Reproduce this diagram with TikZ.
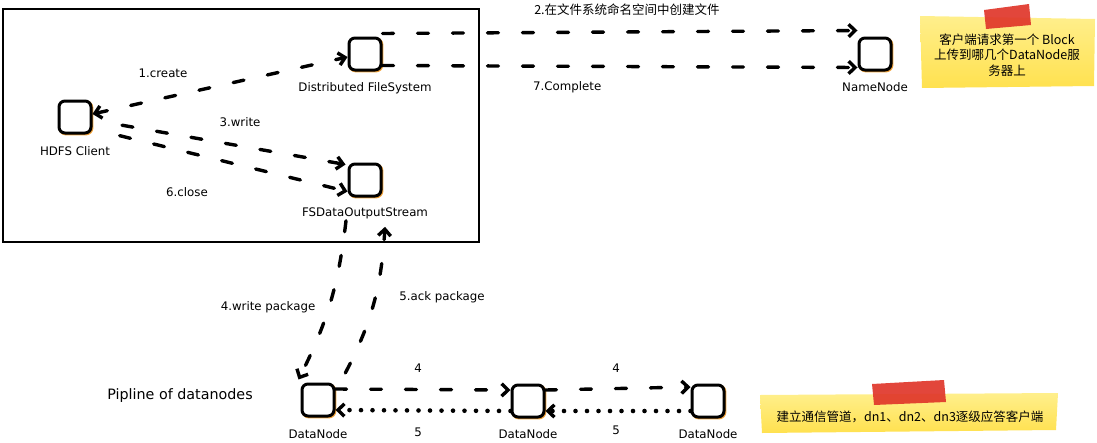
\documentclass[tikz,border=0pt]{standalone}
\usepackage{fontspec}
\setmainfont{DejaVu Sans}
\newfontfamily\cjk{Noto Sans CJK SC}
\usetikzlibrary{arrows.meta}
\definecolor{noteyellow}{HTML}{FFE14F}
\definecolor{notelight}{HTML}{FFEF8C}
\definecolor{tapered}{HTML}{E0362A}
\definecolor{boxshadow}{HTML}{F2A33A}
\begin{document}
\begin{tikzpicture}[x=1pt,y=-1pt,
  box/.style={draw, rounded corners=6pt, minimum size=32pt, inner sep=0pt,
    line width=3pt, fill=white,
    preaction={draw=boxshadow, line width=3pt,
      transform canvas={shift={(0.9pt,-0.9pt)}}}},
  lbl/.style={font=\fontsize{11.8}{14}\selectfont, inner sep=0pt},
  biglbl/.style={font=\fontsize{14.3}{17}\selectfont, inner sep=0pt},
  cjklbl/.style={font=\cjk\fontsize{12.5}{15.5}\selectfont, inner sep=0pt},
  tipbarb/.tip={Straight Barb[length=6.5pt,width=12.5pt,line width=3.4pt]},
  flow/.style={line width=3.4pt, dash pattern=on 11pt off 24pt, line cap=round,
    -tipbarb},
  ackflow/.style={line width=4.6pt, dash pattern=on 0pt off 11.5pt, line cap=round,
    -tipbarb},
  tape/.style={fill=tapered, opacity=0.92},
]
\useasboundingbox (0,0) rectangle (1097,442);

% client-side frame
\draw[line width=2pt] (3,9) rectangle (479,242);

% nodes
\node[box] (client) at (75,117) {};
\node[lbl] (clientl) at (75,151) {HDFS Client};
\node[box] (dfs) at (365,54) {};
\node[lbl] (dfsl) at (365,88) {Distributed FileSystem};
\node[box] (fsd) at (365,180) {};
\node[lbl] (fsdl) at (365,213) {FSDataOutputStream};
\node[box] (nn) at (875,54) {};
\node[lbl] (nnl) at (875,87) {NameNode};
\node[box] (dn1) at (318,400) {};
\node[lbl] (dn1l) at (318,434) {DataNode};
\node[box] (dn2) at (528,401) {};
\node[lbl] (dn2l) at (528,434) {DataNode};
\node[box] (dn3) at (708,401) {};
\node[lbl] (dn3l) at (708,434) {DataNode};
\node[biglbl] (pipe) at (180,396) {Pipline of datanodes};

% connectors
\draw[flow, tipbarb-tipbarb] ([yshift=3pt]client.east) -- ([yshift=-3pt]dfs.west);
\draw[flow, shorten <=30pt] ([yshift=-3pt]client.east) -- ([shift={(-2pt,-2pt)}]fsd.north west);
\draw[flow, shorten <=28pt] ([yshift=-12pt]client.east) -- ([yshift=6pt]fsd.south west);
\draw[flow] ([yshift=3pt]dfs.north east) -- ([yshift=6pt]nn.north west);
\draw[flow] ([yshift=6pt]dfs.south east) -- ([yshift=4pt]nn.south west);
\draw[flow] ([xshift=-19pt,yshift=-2pt]fsdl.south) to[bend left=10] ([shift={(-2pt,3pt)}]dn1.north west);
\draw[flow, shorten <=4pt] ([shift={(8pt,6pt)}]dn1.north east) to[bend right=12] ([xshift=20pt,yshift=-8pt]fsdl.south);
\draw[flow] ([yshift=11pt]dn1.east) -- ([yshift=11pt]dn2.west);
\draw[flow] ([yshift=11pt]dn2.east) -- ([yshift=14pt]dn3.west);
\draw[ackflow] ([yshift=-10pt]dn2.west) -- ([yshift=-10pt]dn1.east);
\draw[ackflow] ([yshift=-10pt]dn3.west) -- ([yshift=-10pt]dn2.east);

% connector labels
\node[lbl] (l1) at (163,73) {1.create};
\node[cjklbl] (l2) at (627,10) {2.在文件系统命名空间中创建文件};
\node[lbl] (l3) at (240,122) {3.write};
\node[lbl] (l6) at (187,192) {6.close};
\node[lbl, anchor=west] (l7) at (533,87) {7.Complete};
\node[lbl] (l4p) at (268,307) {4.write package};
\node[lbl] (l5p) at (442,297) {5.ack package};
\node[lbl] (l4a) at (418,368) {4};
\node[lbl] (l4b) at (616,368) {4};
\node[lbl] (l5a) at (418,432) {5};
\node[lbl] (l5b) at (616,430) {5};

% sticky notes
\shade[top color=notelight, bottom color=noteyellow] (920,16) -- (1095,19) -- (1094,86) -- (922,88) -- cycle;
\fill[tape] (984,10) -- (1029,4) -- (1031,25) -- (986,29) -- cycle;
\node[cjklbl, align=center] (note1) at (1007,55) {客户端请求第一个 Block\\上传到哪几个DataNode服\\务器上};

\shade[top color=notelight, bottom color=noteyellow] (760,395) -- (1058,393) -- (1056,430) -- (762,433) -- cycle;
\fill[tape] (872,384) -- (944,380) -- (946,402) -- (874,405) -- cycle;
\node[cjklbl] (note2) at (910,417) {建立通信管道，dn1、dn2、dn3逐级应答客户端};
\end{tikzpicture}
\end{document}
